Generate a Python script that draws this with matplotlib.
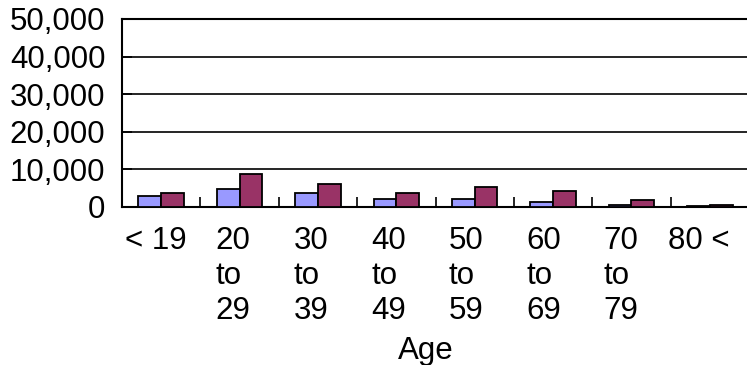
import matplotlib
matplotlib.use("Agg")
import matplotlib.pyplot as plt
import numpy as np
from matplotlib.ticker import FuncFormatter

plt.rcParams["font.family"] = ["Liberation Sans", "DejaVu Sans"]

# age groups and counts for the two series
age_groups = ["< 19", "20\nto\n29", "30\nto\n39", "40\nto\n49",
              "50\nto\n59", "60\nto\n69", "70\nto\n79", "80 <"]
series_a = [3000, 4900, 3700, 2000, 2100, 1300, 600, 250]
series_b = [3700, 8700, 6200, 3700, 5400, 4200, 1800, 600]
y_ticks = [0, 10000, 20000, 30000, 40000, 50000]

fig = plt.figure(figsize=(7.47, 3.65), dpi=100)
ax = fig.add_axes([122 / 747, 1 - 207 / 365, 627 / 747, 188 / 365])

x = np.arange(len(age_groups))
w = 0.29
ax.bar(x + 0.5 - w / 2, series_a, width=w, color="#9999FF",
       edgecolor="black", linewidth=1.3, zorder=3)
ax.bar(x + 0.5 + w / 2, series_b, width=w, color="#993366",
       edgecolor="black", linewidth=1.3, zorder=3)

ax.set_xlim(0, len(age_groups))
ax.set_ylim(0, 50000)
ax.set_yticks(y_ticks)
ax.yaxis.set_major_formatter(FuncFormatter(lambda v, p: f"{int(v):,}"))
ax.tick_params(axis="y", direction="in", length=7, width=1.2,
               labelsize=22.5, pad=12)
for yv in y_ticks[1:-1]:
    ax.axhline(yv, color="black", linewidth=1.2, zorder=1)

# boundary ticks between groups, labels under each group
ax.set_xticks(x[1:], minor=False)
ax.set_xticklabels([])
ax.tick_params(axis="x", which="major", direction="in", length=7,
               width=1.2)
ax.set_xticks(0.43 + 0.99 * x, minor=True)
ax.set_xticklabels(age_groups, minor=True, fontsize=22.5,
                   multialignment="left", linespacing=1.2)
ax.tick_params(axis="x", which="minor", length=0, pad=14)

ax.set_xlabel("Age", fontsize=22.5)
ax.xaxis.set_label_coords(0.485, -0.685)

for side in ["left", "bottom", "top"]:
    ax.spines[side].set_linewidth(1.5)
ax.spines["right"].set_visible(False)

fig.savefig("out.png", dpi=100)
